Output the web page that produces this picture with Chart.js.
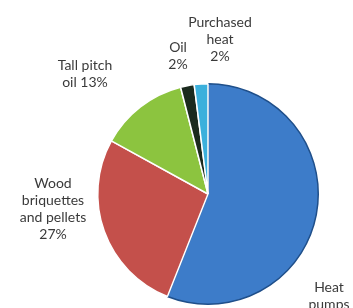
<!DOCTYPE html>
<html>
<head>
<meta charset="utf-8">
<script src="https://cdn.jsdelivr.net/npm/chart.js@4.4.1/dist/chart.umd.min.js"></script>
<style>
  html, body { margin: 0; padding: 0; background: #fff; }
  #wrap { width: 353px; height: 308px; }
</style>
</head>
<body>
<div id="wrap"><canvas id="pie" width="353" height="308"></canvas></div>
<script>
// Data
const categories = ['Heat pumps', 'Wood briquettes and pellets', 'Tall pitch oil', 'Oil', 'Purchased heat'];
const shares = [56, 27, 13, 2, 2];
const sliceColors = ['#3d7cc9', '#c4504b', '#8cc43f', '#1b2a1e', '#3bb0dc'];
const borderColors = ['#1f4f8a', '#ffffff', '#ffffff', '#ffffff', '#ffffff'];

// label text lines, and where each block sits (offset from pie centre, px)
const labelLines = [
  ['Heat', 'pumps', '56%'],
  ['Wood', 'briquettes', 'and pellets', '27%'],
  ['Tall pitch', 'oil 13%'],
  ['Oil', '2%'],
  ['Purchased', 'heat', '2%']
];
const labelOffsets = [[121, 93], [-155, -11], [-123, -129], [-30, -147], [12, -172]];

const outsideLabels = {
  id: 'outsideLabels',
  afterDraw(chart) {
    const ctx = chart.ctx;
    const arc = chart.getDatasetMeta(0).data[0];
    ctx.save();
    ctx.font = '14px Lato, "Open Sans", sans-serif';
    ctx.fillStyle = '#3a3a3a';
    ctx.textAlign = 'center';
    ctx.textBaseline = 'middle';
    labelLines.forEach((lines, i) => {
      const [dx, dy] = labelOffsets[i];
      lines.forEach((t, j) => {
        ctx.fillText(t, arc.x + dx, arc.y + dy + j * 17);
      });
    });
    ctx.restore();
  }
};

new Chart(document.getElementById('pie'), {
  type: 'pie',
  data: {
    labels: categories,
    datasets: [{
      data: shares,
      backgroundColor: sliceColors,
      borderColor: borderColors,
      borderWidth: 1.5
    }]
  },
  options: {
    responsive: false,
    animation: false,
    layout: { padding: { left: 97, right: 34, top: 83, bottom: 3 } },
    plugins: {
      legend: { display: false },
      tooltip: { enabled: false }
    }
  },
  plugins: [outsideLabels]
});
</script>
</body>
</html>
